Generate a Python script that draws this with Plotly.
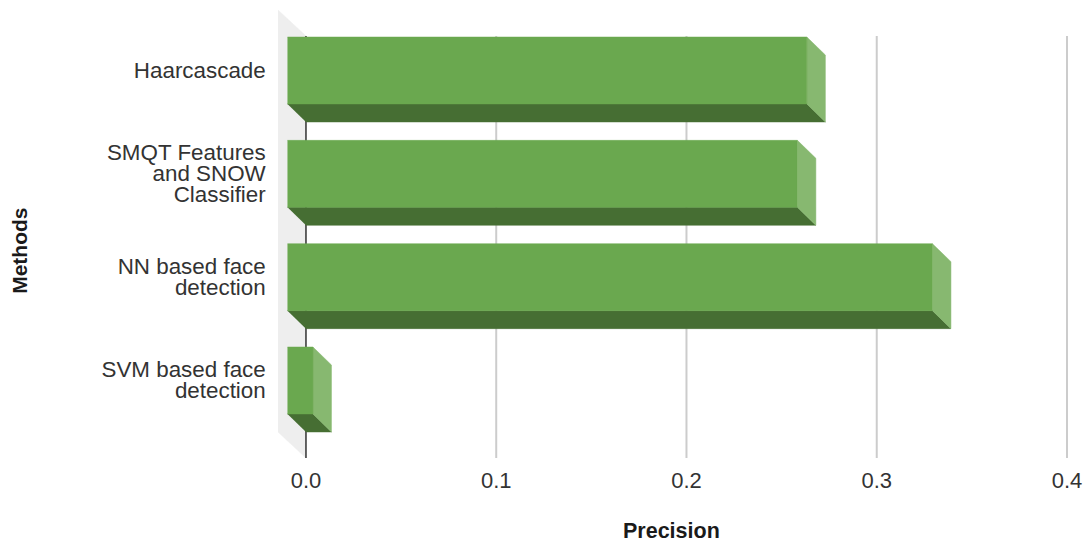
import plotly.graph_objects as go

# Chart data
methods = [
    ["Haarcascade"],
    ["SMQT Features", "and SNOW", "Classifier"],
    ["NN based face", "detection"],
    ["SVM based face", "detection"],
]
precision = [0.273, 0.268, 0.339, 0.0134]
x_ticks = [0.0, 0.1, 0.2, 0.3, 0.4]
x_tick_labels = ["0.0", "0.1", "0.2", "0.3", "0.4"]

# Palette
FRONT = "#6aa84f"
SIDE = "#87b870"
UNDER = "#466e33"
WALL = "#eeeeee"
GRID = "#cccccc"
ZERO = "#333333"
TEXT = "#333333"
TITLE = "#1a1a1a"
FONT = "Liberation Sans, Arial, sans-serif"

# Extrusion of the bars and of the back wall, in axis units
BAR_DX, BAR_DY = 0.00972, 0.174
WALL_DX, WALL_DY = 0.0147, 0.2516
HALF_BAR = 0.324
GRID_TOP, GRID_BOTTOM = -0.334, 3.75
X_RANGE = [-0.0147, 0.40263]
Y_RANGE = [3.75, -0.5855]
LABEL_NUDGE = 0.014


def polygon(xs, ys, color):
    return go.Scatter(
        x=xs, y=ys, mode="lines", fill="toself", fillcolor=color,
        line=dict(color=color, width=0.5), hoverinfo="skip", showlegend=False,
    )


def vline(x, color, width):
    return go.Scatter(
        x=[x, x], y=[GRID_TOP, GRID_BOTTOM], mode="lines",
        line=dict(color=color, width=width), hoverinfo="skip", showlegend=False,
    )


def tick_text(lines):
    # Line spacing follows the tick font size, glyph size follows the span,
    # which gives tighter leading than the default 1.3em
    return "<br>".join(f'<span style="font-size:22.4px">{line}</span>' for line in lines)


fig = go.Figure()

# Back wall behind the zero line
fig.add_trace(polygon(
    [-WALL_DX, 0, 0, -WALL_DX],
    [GRID_TOP - WALL_DY, GRID_TOP, GRID_BOTTOM, GRID_BOTTOM - WALL_DY],
    WALL,
))

# Gridlines, then the zero line over the wall
for tick in x_ticks[1:]:
    fig.add_trace(vline(tick, GRID, 2))
fig.add_trace(vline(x_ticks[0], ZERO, 1.5))

# Extruded bars: the value is read on the back plane
for i, value in enumerate(precision):
    left = -BAR_DX
    right = value - BAR_DX
    top = i - HALF_BAR
    bottom = i + HALF_BAR
    fig.add_trace(polygon(
        [left, right, value, 0],
        [bottom, bottom, bottom + BAR_DY, bottom + BAR_DY],
        UNDER,
    ))
    fig.add_trace(polygon(
        [right, value, value, right],
        [top, top + BAR_DY, bottom + BAR_DY, bottom],
        SIDE,
    ))
    fig.add_trace(polygon(
        [left, right, right, left],
        [top, top, bottom, bottom],
        FRONT,
    ))

# Axis titles
annotations = [
    dict(
        text="<b>Precision</b>", xref="paper", yref="paper",
        x=0.4962, y=-0.1625, xanchor="center", yanchor="middle", showarrow=False,
        font=dict(family=FONT, size=21.5, color=TITLE),
    ),
    dict(
        text="<b>Methods</b>", xref="paper", yref="paper",
        x=-0.3264, y=0.462, xanchor="center", yanchor="middle", showarrow=False,
        textangle=-90, font=dict(family=FONT, size=21, color=TITLE),
    ),
]

fig.update_layout(
    width=1089, height=543,
    margin=dict(l=278, r=17, t=10, b=85),
    paper_bgcolor="white", plot_bgcolor="white",
    showlegend=False, annotations=annotations,
)
fig.update_xaxes(
    automargin=False,
    range=X_RANGE, tickmode="array", tickvals=x_ticks, ticktext=x_tick_labels,
    showgrid=False, zeroline=False, showline=False,
    ticks="outside", ticklen=3, tickcolor="rgba(0,0,0,0)",
    tickfont=dict(family=FONT, size=22, color=TEXT),
)
fig.update_yaxes(
    automargin=False,
    range=Y_RANGE, tickmode="array",
    tickvals=[i + LABEL_NUDGE for i in range(len(methods))],
    ticktext=[tick_text(lines) for lines in methods],
    showgrid=False, zeroline=False, showline=False,
    ticks="outside", ticklen=8, tickcolor="rgba(0,0,0,0)",
    tickfont=dict(family=FONT, size=16.2, color=TEXT),
)

fig.write_html("out.html", config=dict(displayModeBar=False))
